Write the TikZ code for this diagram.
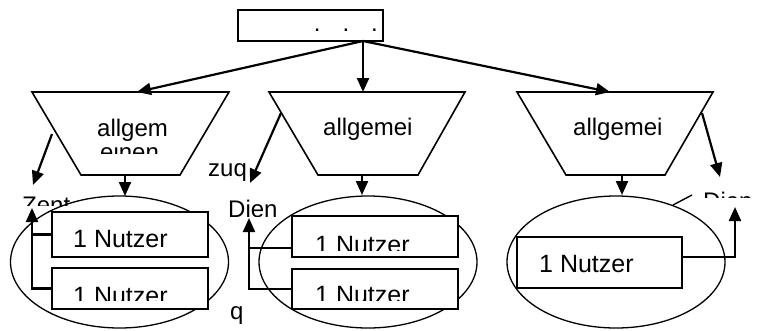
\documentclass[tikz,border=0pt]{standalone}
\usepackage{fontspec}
\setmainfont{Liberation Sans}
\usetikzlibrary{arrows.meta,shapes.geometric}
\begin{document}
\begin{tikzpicture}[x=1pt,y=-1pt,
  shp/.style={draw=black, line width=1.6pt},
  conn/.style={draw=black, line width=2.2pt, -{Triangle[length=14pt,width=12pt]}},
  plainline/.style={draw=black, line width=2.2pt},
  thinline/.style={draw=black, line width=1.4pt},
  lbl/.style={inner sep=0pt, anchor=base west, font=\fontsize{24}{28}\selectfont},
  nutz/.style={inner sep=0pt, anchor=base west, font=\fontsize{25}{30}\selectfont},
  box/.style={shp, fill=white, rectangle, inner sep=0pt},
  oval/.style={draw=black, line width=1.3pt, ellipse, inner sep=0pt, minimum width=218pt, minimum height=132pt}
]
\useasboundingbox (0,0) rectangle (760,330);

% top box
\node[box, minimum width=145pt, minimum height=31pt] (top) at (310.5,25.5) {};
\node[lbl] (dots) at (313.7,31) {.\hspace{22pt}.\hspace{22pt}.};

% trapezoids
\coordinate (t1a) at (32,92);  \coordinate (t1b) at (229,92);
\coordinate (t1c) at (180,175); \coordinate (t1d) at (81,175);
\coordinate (t2a) at (269,92); \coordinate (t2b) at (465,92);
\coordinate (t2c) at (418,175); \coordinate (t2d) at (318,175);
\coordinate (t3a) at (517,92); \coordinate (t3b) at (713,92);
\coordinate (t3c) at (665,175); \coordinate (t3d) at (566,175);
\draw[shp] (t1a) -- (t1b) -- (t1c) -- (t1d) -- cycle;
\draw[shp] (t2a) -- (t2b) -- (t2c) -- (t2d) -- cycle;
\draw[shp] (t3a) -- (t3b) -- (t3c) -- (t3d) -- cycle;

\node[lbl] (tx1) at (97,136) {allgem};
\begin{scope}
  \clip (90,146) rectangle (175,153);
  \node[lbl] (tx1b) at (100,160) {einen};
\end{scope}
\node[lbl] (tx2) at (323,135) {allgemei};
\node[lbl] (tx3) at (573,135) {allgemei};

% top connectors
\coordinate (topout) at (363,41);
\coordinate (in1) at (137,92);
\coordinate (in2) at (363,92);
\coordinate (in3) at (610,92);
\draw[conn] (topout) -- (in1);
\draw[conn] (topout) -- (in2);
\draw[conn] (topout) -- (in3);

% ellipses
\node[oval] (e1) at (119.5,262) {};
\node[oval] (e2) at (368,262) {};
\node[oval] (e3) at (616,262) {};

% down arrows
\coordinate (d1s) at (125,175); \coordinate (d1e) at (125,196);
\coordinate (d2s) at (362,175); \coordinate (d2e) at (362,195);
\coordinate (d3s) at (622,175); \coordinate (d3e) at (622,195);
\draw[conn] (d1s) -- (d1e);
\draw[conn] (d2s) -- (d2e);
\draw[conn] (d3s) -- (d3e);

% side arrows from trapezoids
\coordinate (a1s) at (52,134);  \coordinate (a1e) at (33,185);
\coordinate (a2s) at (281,113); \coordinate (a2e) at (250,183);
\coordinate (a3s) at (702,113); \coordinate (a3e) at (720,177);
\draw[conn] (a1s) -- (a1e);
\draw[conn] (a2s) -- (a2e);
\draw[conn] (a3s) -- (a3e);

% side labels
\node[lbl] (zuq) at (208,176) {zuq};
\begin{scope}
  \clip (15,190) rectangle (90,205);
  \node[lbl] (zent) at (22,213) {Zent};
\end{scope}
\begin{scope}
  \clip (220,190) rectangle (290,216.5);
  \node[lbl] (dien) at (228,217) {Dien};
\end{scope}
\begin{scope}
  \clip (695,191) rectangle (760,197);
  \node[lbl] (dienr) at (703,209) {Dien};
\end{scope}
\node[lbl] (qq) at (230,319) {q};
\coordinate (cl1) at (673,205); \coordinate (cl2) at (692,195);
\draw[thinline] (cl1) -- (cl2);

% user boxes
\node[box, minimum width=156pt, minimum height=45pt] (L1) at (130,234.5) {};
\node[box, minimum width=156pt, minimum height=41pt] (L2) at (130,288.5) {};
\node[box, minimum width=166pt, minimum height=41pt] (M1) at (375,236.5) {};
\node[box, minimum width=166pt, minimum height=40pt] (M2) at (375,289) {};
\node[box, minimum width=165pt, minimum height=51pt] (R) at (599.5,262.5) {};

\node[nutz] (nL1) at (73,247) {1 Nutzer};
\begin{scope}
  \clip (60,270) rectangle (200,300);
  \node[nutz] (nL2) at (73,304) {1 Nutzer};
\end{scope}
\begin{scope}
  \clip (300,220) rectangle (450,250);
  \node[nutz] (nM1) at (315,253) {1 Nutzer};
\end{scope}
\begin{scope}
  \clip (300,272) rectangle (450,300);
  \node[nutz] (nM2) at (315,303) {1 Nutzer};
\end{scope}
\node[nutz] (nR) at (539,272) {1 Nutzer};

% box connectors
\coordinate (zt) at (32,208);
\draw[conn] (L2.west) -| (zt);
\draw[plainline] (L1.west) -- (L1.west -| zt);
\coordinate (dt) at (249,218);
\coordinate (m1port) at (292,248);
\draw[conn] (M2.west) -| (dt);
\draw[plainline] (m1port) -- (m1port -| dt);
\coordinate (rport) at (682,257);
\coordinate (rt) at (735,207);
\draw[conn] (rport) -| (rt);
\end{tikzpicture}
\end{document}
